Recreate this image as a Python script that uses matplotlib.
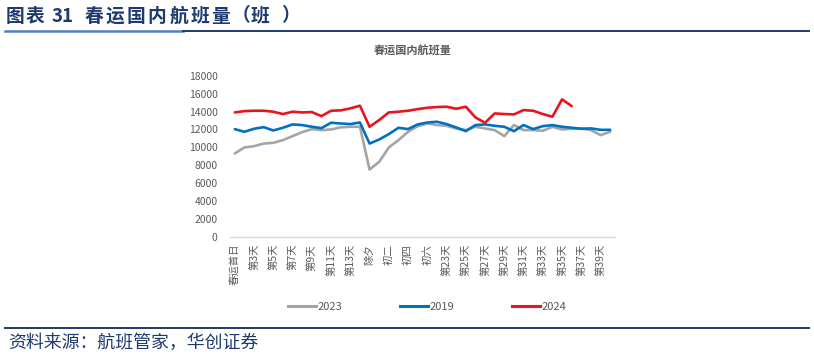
import matplotlib
matplotlib.use("Agg")
import matplotlib.pyplot as plt
from matplotlib.lines import Line2D

plt.rcParams['font.family'] = ['Noto Sans CJK SC', 'DejaVu Sans']

categories = (["春运首日"] + [f"第{i}天" for i in range(2, 15)] +
              ["除夕", "初一", "初二", "初三", "初四", "初五", "初六", "初七"] +
              [f"第{i}天" for i in range(23, 41)])

y2023 = [9320, 9990, 10140, 10430, 10510, 10810, 11260, 11700, 12040, 11930,
         12000, 12230, 12300, 12300, 7530, 8390, 9990, 10810, 11740, 12370,
         12670, 12490, 12410, 12110, 11930, 12300, 12110, 11930, 11260, 12490,
         11930, 11930, 11850, 12300, 12000, 12080, 12110, 11930, 11370, 11740]
y2019 = [12040, 11740, 12080, 12260, 11890, 12190, 12560, 12490, 12300, 12150,
         12750, 12670, 12600, 12780, 10430, 10880, 11480, 12190, 12040, 12560,
         12780, 12860, 12600, 12230, 11810, 12490, 12560, 12410, 12300, 11810,
         12490, 12040, 12370, 12490, 12300, 12190, 12080, 12120, 11960, 11960]
y2024 = [13900, 14050, 14090, 14090, 13980, 13720, 13980, 13900, 13940, 13490,
         14090, 14130, 14350, 14650, 12300, 13050, 13900, 13980, 14090, 14270,
         14420, 14500, 14540, 14310, 14540, 13340, 12750, 13790, 13720, 13680,
         14160, 14090, 13720, 13420, 15360, 14610]

series = [("2023", y2023, "#A5A5A5"), ("2019", y2019, "#0070C0"), ("2024", y2024, "#E8141E")]

header_pieces = ["图", "表", "31", "春", "运", "国", "内", "航", "班", "量", "（", "班", "）"]
chart_title = "春运国内航班量"
source_note = "资料来源：航班管家，华创证券"

W, H = 814, 356
fig = plt.figure(figsize=(W / 100, H / 100), dpi=100)

ax = fig.add_axes([230 / W, 1 - 237 / H, (615 - 230) / W, (237 - 75.7) / H])
x = list(range(len(categories)))
for name, vals, col in series:
    ax.plot(x[:len(vals)], vals, color=col, lw=1.9, solid_joinstyle='round',
            solid_capstyle='round', label=name)

ax.set_xlim(-0.5, len(categories) - 0.5)
ax.set_ylim(0, 18000)
ax.set_yticks(range(0, 18001, 2000))
ax.set_xticks(x[::2])
ax.set_xticklabels(categories[::2], rotation=90, fontsize=7.5, color="#595959")
ax.tick_params(axis='y', length=0, pad=9, labelsize=7.5, labelcolor="#595959")
ax.tick_params(axis='x', length=0, pad=5)
for s in ['top', 'right', 'left']:
    ax.spines[s].set_visible(False)
ax.spines['bottom'].set_color("#D9D9D9")
ax.spines['bottom'].set_linewidth(1)

fig.text(413 / W, 1 - 51 / H, chart_title, ha='center', va='center',
         fontsize=8, color="#595959", fontweight='bold')

handles = [Line2D([], [], color=c, lw=2.2) for _, _, c in series]
fig.legend(handles, [n for n, _, _ in series], loc='center',
           bbox_to_anchor=(427 / W, 1 - 307 / H), ncol=3, frameon=False,
           fontsize=8, handlelength=2.5, handletextpad=0.15, columnspacing=5.2,
           labelcolor="#595959")

# header: placed piece by piece to reproduce the wide character spacing
centers = [15, 35, 63, 93.5, 115, 135.5, 156.5, 178.5, 200, 220.5, 240.5, 260, 290]
for p, cx in zip(header_pieces, centers):
    fig.text(cx / W, 1 - 16 / H, p, ha='center', va='center',
             fontsize=13.5, fontweight='bold', color="#1F3A6E")
fig.add_artist(Line2D([5 / W, 183 / W], [1 - 31 / H] * 2, color="#4F7FC0", lw=1.8))
fig.add_artist(Line2D([183 / W, 809 / W], [1 - 30.5 / H] * 2, color="#1F3A6E", lw=1.4))

# footer
fig.add_artist(Line2D([5 / W, 809 / W], [1 - 328 / H] * 2, color="#1F3A6E", lw=1.4))
fig.text(8 / W, 1 - 343 / H, source_note, ha='left', va='center',
         fontsize=12.9, color="#1F3A6E")

fig.savefig("out.png", dpi=100)
